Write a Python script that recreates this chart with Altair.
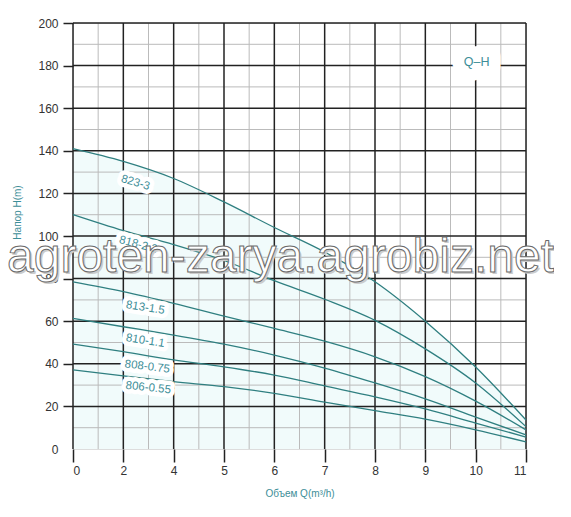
import altair as alt
import pandas as pd

# ---------------- data ----------------
Q = [0, 2, 4, 5, 6, 7, 8, 9, 10, 11]
series = ["823-3", "818-2.2", "813-1.5", "810-1.1", "808-0.75", "806-0.55"]
H_823 = [141, 135, 127, 116, 104, 92.5, 78.5, 60, 38.5, 13.6]
H_818 = [110, 102.5, 96, 88.5, 79, 70.3, 60.4, 47, 31, 10.5]
H_813 = [78.5, 73.9, 68.4, 62.4, 56.6, 50.6, 43.3, 34, 22.5, 9]
H_810 = [61.3, 57.4, 53.5, 49.2, 44.1, 38, 31, 23.5, 15, 6.6]
H_808 = [49.3, 45.7, 41.8, 38.6, 34.7, 29.6, 24.5, 18.8, 12.2, 5.6]
H_806 = [37.1, 34.3, 31.6, 29.3, 26.1, 22, 18, 14, 9, 3.3]

label_q = [2.48, 2.59, 2.87, 2.87, 2.95, 2.99]
label_h = [124.9, 95.8, 66.2, 50.7, 38.5, 28.6]
label_angle = [16, 15, 9, 9, 7, 6]

qh_text = ["Q–H"]
qh_q = [10.02]
qh_h = [181.7]

x_ticks = [0, 2, 4, 5, 6, 7, 8, 9, 10, 11]
y_ticks = [0, 20, 40, 60, 80, 100, 120, 140, 160, 180, 200]
x_minor = [1, 3, 4.5, 5.5, 6.5, 7.5, 8.5, 9.5, 10.5]
y_minor = [10, 30, 50, 70, 90, 110, 130, 150, 170, 190]
y_major = [20, 40, 60, 80, 100, 120, 140, 160, 180, 200]

watermark = ["agroten-zarya.agrobiz.net"]
x_title = "Объем Q(m³/h)"
y_title = "Напор H(m)"

# ---------------- tables ----------------
all_h = [H_823, H_818, H_813, H_810, H_808, H_806]
rows = []
for name, hs in zip(series, all_h):
    for q, h in zip(Q, hs):
        rows.append({"series": name, "Q": q, "H": h})
curves_df = pd.DataFrame(rows)
top_df = pd.DataFrame({"Q": Q, "H": H_823})
labels_df = pd.DataFrame({"text": series, "Q": label_q, "H": label_h, "angle": label_angle})
qh_df = pd.DataFrame({"text": qh_text, "Q": qh_q, "H": qh_h})

W, HGT = 453, 426
TEAL = "#2f7f80"
TEXT_TEAL = "#3d8e98"

xscale = alt.Scale(domain=[0, 4, 11], range=[0, W * 2 / 9, W], nice=False, zero=False)
yscale = alt.Scale(domain=[0, 200], nice=False, zero=False)

x_axis = alt.Axis(
    values=x_ticks, grid=False, domain=False, ticks=True, tickSize=13,
    tickColor="#222", tickWidth=1.5, labelFontSize=12, labelColor="#333",
    labelPadding=3, labelFont="Liberation Sans", title=x_title, titleColor=TEXT_TEAL,
    titleFontSize=10, titleFontWeight="normal", titleFont="Liberation Sans",
    titleY=44, titleBaseline="middle",
)
y_axis = alt.Axis(
    values=y_ticks, grid=False, domain=False, ticks=True, tickSize=10,
    tickColor="#222", tickWidth=1.5,
    tickOpacity={"condition": {"test": "datum.value == 0", "value": 0}, "value": 1},
    labelFontSize=12, labelColor="#333", labelPadding=5, labelFont="Liberation Sans",
    title=y_title, titleColor=TEXT_TEAL, titleFontSize=10, titleFontWeight="normal",
    titleFont="Liberation Sans", titleX=-56, titleY=189, titleAngle=270,
    titleBaseline="middle", titleAlign="center",
)

X = alt.X("Q:Q", scale=xscale, axis=x_axis)
Y = alt.Y("H:Q", scale=yscale, axis=y_axis)

area = alt.Chart(top_df).mark_area(color="#f1fbfb", interpolate="monotone").encode(x=X, y=Y)

minor_v = alt.Chart(pd.DataFrame({"Q": x_minor})).mark_rule(color="#bbbbbb", strokeWidth=1).encode(x=X)
minor_h = alt.Chart(pd.DataFrame({"H": y_minor})).mark_rule(color="#bbbbbb", strokeWidth=1).encode(y=Y)
major_v = alt.Chart(pd.DataFrame({"Q": x_ticks})).mark_rule(color="#222", strokeWidth=1.5).encode(x=X)
major_h = alt.Chart(pd.DataFrame({"H": y_major})).mark_rule(color="#222", strokeWidth=1.5).encode(y=Y)

curves = alt.Chart(curves_df).mark_line(color=TEAL, strokeWidth=1.3, interpolate="monotone").encode(
    x=X, y=Y, detail="series:N",
)

label_enc = dict(x=X, y=Y, text="text:N", angle=alt.Angle("angle:Q", scale=None))
label_halo = alt.Chart(labels_df).mark_text(
    font="Liberation Sans", fontSize=11.5, fill="white", stroke="white",
    strokeWidth=9, strokeJoin="round", baseline="middle", align="center",
).encode(**label_enc)
label_text = alt.Chart(labels_df).mark_text(
    font="Liberation Sans", fontSize=11.5, color=TEXT_TEAL, baseline="middle", align="center",
).encode(**label_enc)

qh_enc = dict(x=X, y=Y, text="text:N")
qh_halo = alt.Chart(qh_df).mark_text(
    font="Liberation Sans", fontSize=12.5, fill="white", stroke="white",
    strokeWidth=24, strokeJoin="round", baseline="middle", align="center",
).encode(**qh_enc)
qh_label = alt.Chart(qh_df).mark_text(
    font="Liberation Sans", fontSize=12.5, color=TEXT_TEAL, baseline="middle", align="center",
).encode(**qh_enc)

wm_df = pd.DataFrame({"t": watermark})
wm_shadow = alt.Chart(wm_df).mark_text(
    font="Liberation Sans", fontSize=48, fill="#cccccc",
    align="left", baseline="alphabetic", dx=2, dy=2,
).encode(text="t:N", x=alt.value(-66), y=alt.value(249))
wm_text = alt.Chart(wm_df).mark_text(
    font="Liberation Sans", fontSize=48, fill="white",
    stroke="#6a6a6a", strokeWidth=1, align="left", baseline="alphabetic",
).encode(text="t:N", x=alt.value(-66), y=alt.value(249))

chart = alt.layer(
    area, minor_v, minor_h, major_v, major_h, curves,
    label_halo, label_text, qh_halo, qh_label, wm_shadow, wm_text,
).properties(
    width=W, height=HGT,
    autosize=alt.AutoSizeParams(type="none"),
    padding={"left": 65, "top": 15, "right": 28, "bottom": 52},
).configure_view(stroke=None).configure(background="white")

chart.save("out.html", embed_options={"renderer": "svg", "actions": False})
